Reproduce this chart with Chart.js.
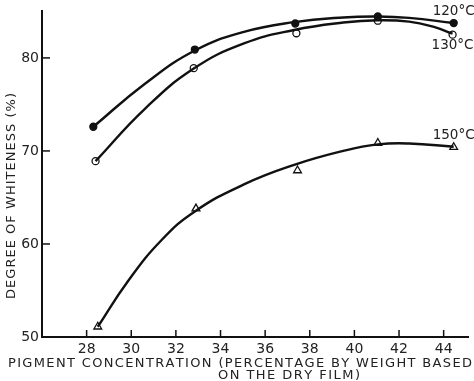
<!DOCTYPE html>
<html>
<head>
<meta charset="utf-8">
<script src="https://cdn.jsdelivr.net/npm/chart.js@4/dist/chart.umd.min.js"></script>
<style>
  html, body { margin: 0; padding: 0; background: #fff; }
  #wrap { width: 474px; height: 381px; }
</style>
</head>
<body>
<div id="wrap"><canvas id="c" width="474" height="381"></canvas></div>
<script>
// Pigment concentration (% by weight on dry film) vs. degree of whiteness (%)
// Measured points for each baking temperature
const concentration120 = [28.3, 32.85, 37.35, 41.05, 44.45];
const whiteness120     = [72.6, 80.9, 83.7, 84.45, 83.75];
const concentration130 = [28.4, 32.8, 37.4, 41.05, 44.4];
const whiteness130     = [68.9, 78.9, 82.65, 84.0, 82.5];
const concentration150 = [28.5, 32.9, 37.45, 41.05, 44.45];
const whiteness150     = [51.1, 63.8, 67.9, 70.85, 70.4];

// Smoothed trend curves drawn through each set of points
const curve120X = [28.3, 30.6, 32.85, 35.05, 37.3, 39.5, 41.05, 42.45, 44.45];
const curve120Y = [72.6, 77.2, 80.8, 82.8, 83.85, 84.35, 84.45, 84.3, 83.75];
const curve130X = [28.4, 30.6, 32.8, 35.05, 37.3, 39.5, 41.05, 42.45, 43.6, 44.4];
const curve130Y = [68.9, 74.5, 78.85, 81.55, 83.0, 83.8, 84.05, 83.9, 83.3, 82.6];
const curve150X = [28.5, 29.85, 31.35, 32.85, 35.05, 37.3, 39.5, 41.05, 42.45, 44.45];
const curve150Y = [51.1, 56.0, 60.4, 63.5, 66.4, 68.5, 70.0, 70.7, 70.8, 70.45];

const xTickValues = [28, 30, 32, 34, 36, 38, 40, 42, 44];
const yTickValues = [50, 60, 70, 80];
const seriesLabels = ['120°C', '130°C', '150°C'];

const FONT = '"DejaVu Sans", sans-serif';
const INK = '#111';
const TEXT = '#222';

const toPoints = (xs, ys) => xs.map((x, i) => ({ x, y: ys[i] }));

function curve(label, xs, ys) {
  return {
    label,
    data: toPoints(xs, ys),
    borderColor: INK,
    borderWidth: 2.4,
    tension: 0.45,
    pointRadius: 0,
    clip: false
  };
}

function markers(label, xs, ys, style, fill, radius) {
  return {
    label,
    data: toPoints(xs, ys),
    showLine: false,
    pointStyle: style,
    pointRadius: radius,
    pointBackgroundColor: fill,
    pointBorderColor: INK,
    pointBorderWidth: 1.3,
    clip: false
  };
}

// Draw text letter by letter so that it spans a given width
function spacedText(ctx, text, cx, cy, width) {
  const chars = [...text];
  const widths = chars.map(c => ctx.measureText(c).width);
  const total = widths.reduce((a, b) => a + b, 0);
  const gap = (width - total) / (chars.length - 1);
  let x = cx - width / 2;
  ctx.textAlign = 'left';
  chars.forEach((c, i) => { ctx.fillText(c, x, cy); x += widths[i] + gap; });
}

// Inward tick marks, axis titles and curve labels
const decorations = {
  id: 'decorations',
  afterDraw(chart) {
    const { ctx, scales: { x, y } } = chart;
    ctx.save();
    ctx.strokeStyle = INK;
    ctx.lineWidth = 1.5;
    xTickValues.forEach(v => {
      const px = x.getPixelForValue(v);
      ctx.beginPath(); ctx.moveTo(px, y.bottom); ctx.lineTo(px, y.bottom - 7); ctx.stroke();
    });
    yTickValues.forEach(v => {
      const py = y.getPixelForValue(v);
      ctx.beginPath(); ctx.moveTo(x.left, py); ctx.lineTo(x.left + 8, py); ctx.stroke();
    });

    ctx.fillStyle = TEXT;
    ctx.font = '13px ' + FONT;
    ctx.textBaseline = 'middle';
    spacedText(ctx, 'PIGMENT CONCENTRATION (PERCENTAGE BY WEIGHT BASED', 240, 364, 464);
    spacedText(ctx, 'ON THE DRY FILM)', 289, 376, 142);

    ctx.save();
    ctx.translate(12, 196);
    ctx.rotate(-Math.PI / 2);
    spacedText(ctx, 'DEGREE OF WHITENESS (%)', 0, 0, 206);
    ctx.restore();

    ctx.font = '13.5px ' + FONT;
    ctx.textAlign = 'left';
    const markerSets = [chart.data.datasets[3], chart.data.datasets[4], chart.data.datasets[5]];
    const offsets = [[-21, -12], [-21, 11], [-21, -12]];
    markerSets.forEach((ds, i) => {
      const last = ds.data[ds.data.length - 1];
      const px = x.getPixelForValue(last.x);
      const py = y.getPixelForValue(last.y);
      ctx.fillText(seriesLabels[i], px + offsets[i][0], py + offsets[i][1]);
    });
    ctx.restore();
  }
};

new Chart(document.getElementById('c'), {
  type: 'line',
  data: {
    datasets: [
      curve(seriesLabels[0], curve120X, curve120Y),
      curve(seriesLabels[1], curve130X, curve130Y),
      curve(seriesLabels[2], curve150X, curve150Y),
      markers(seriesLabels[0], concentration120, whiteness120, 'circle', INK, 3.5),
      markers(seriesLabels[1], concentration130, whiteness130, 'circle', '#fff', 3.5),
      markers(seriesLabels[2], concentration150, whiteness150, 'triangle', '#fff', 4.5)
    ]
  },
  options: {
    responsive: false,
    animation: false,
    layout: { padding: { top: 11, right: 2, left: 0, bottom: 0 } },
    plugins: { legend: { display: false }, tooltip: { enabled: false } },
    scales: {
      x: {
        type: 'linear',
        min: 26,
        max: 45.1,
        afterBuildTicks: s => { s.ticks = xTickValues.map(v => ({ value: v })); },
        afterFit: s => { s.height = 44; },
        grid: { display: false, drawTicks: false },
        border: { display: true, color: INK, width: 2 },
        ticks: { color: TEXT, font: { family: FONT, size: 14 }, padding: 4, maxRotation: 0 }
      },
      y: {
        type: 'linear',
        min: 50,
        max: 85,
        afterBuildTicks: s => { s.ticks = yTickValues.map(v => ({ value: v })); },
        afterFit: s => { s.width = 42; },
        grid: { display: false, drawTicks: false },
        border: { display: true, color: INK, width: 2 },
        ticks: { color: TEXT, font: { family: FONT, size: 14 }, padding: 3 }
      }
    }
  },
  plugins: [decorations]
});
</script>
</body>
</html>
